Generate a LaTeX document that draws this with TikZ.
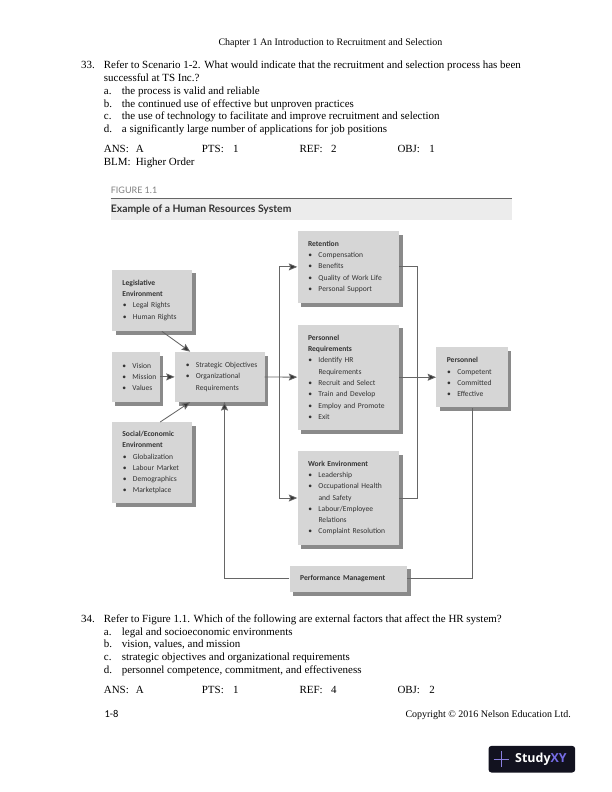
\documentclass[tikz,border=0pt]{standalone}
\usepackage{fontspec}
\setmainfont{Liberation Serif}
\newfontfamily\hrfont{Carlito}
\newfontfamily\headfont{Lato}
\newfontfamily\badgefont{Open Sans}
\usetikzlibrary{positioning}
\usetikzlibrary{arrows.meta}
\usetikzlibrary{shadows}
\definecolor{boxgray}{HTML}{D6D6D6}
\definecolor{shadegray}{HTML}{8A8A8A}
\definecolor{linegray}{HTML}{666666}
\definecolor{inkgray}{HTML}{333333}
\definecolor{badgedark}{HTML}{12121F}
\definecolor{badgeviolet}{HTML}{8A7FE0}
\newcommand{\hrb}[1]{\mbox{\makebox[10.5bp][l]{\hspace{0.4bp}\textbullet}#1}}
\newcommand{\hrc}[1]{\hspace*{10.5bp}#1}
\tikzset{
    hrbox/.style 2 args = {rectangle, fill=boxgray, inner xsep=10.5bp, inner ysep=0pt, text width=#1bp-21bp, minimum height=#2bp, align=left, text=inkgray, font=\hrfont\fontsize{7.6}{11.3}\selectfont, drop shadow={shadow xshift=3.6bp, shadow yshift=-3.6bp, fill=shadegray, opacity=1}},
    qtext/.style = {anchor=north west, inner sep=0pt, align=left, font=\fontsize{11}{12.7}\selectfont},
    ltext/.style = {anchor=base west, inner sep=0pt, font=\fontsize{11}{12.7}\selectfont},
    edgen/.style = {-,line width=0.85bp,linegray},
    edgea/.style = {-{Stealth[length=8.5bp,width=7bp,inset=1.4bp,fill=inkgray]},line width=0.85bp,linegray}
}
\begin{document}
\begin{tikzpicture}[x=1bp,y=-1bp]
  \useasboundingbox (0,0) rectangle (612,792);
  % running head
  \node[ltext,font=\fontsize{10}{12}\selectfont] (chap) at (218.3,45.3) {Chapter 1 An Introduction to Recruitment and Selection};
  % question 33
  \node[ltext] (n33) at (81,69) {33.};
  \node[ltext] (q33) at (103.7,69) {Refer to Scenario 1-2. What would indicate that the recruitment and selection process has been};
  \node[ltext] (q33b) at (103.7,81.7) {successful at TS Inc.?};
  \node[qtext] (l33) at (103.7,85.4) {\strut a.\\b.\\c.\\d.};
  \node[qtext] (o33) at (121.7,85.4) {\strut the process is valid and reliable\\the continued use of effective but unproven practices\\the use of technology to facilitate and improve recruitment and selection\\a significantly large number of applications for job positions};
  \node[ltext] (ansa) at (103.7,152.7) {ANS:\hspace{7bp}A};
  \node[ltext] (ptsa) at (201.7,152.7) {PTS:\hspace{9.3bp}1};
  \node[ltext] (refa) at (299.3,152.7) {REF:\hspace{8.5bp}2};
  \node[ltext] (obja) at (397.3,152.7) {OBJ:\hspace{9.3bp}1};
  \node[ltext] (blm) at (103.7,165.7) {BLM:\hspace{5.1bp}Higher Order};
  % figure title
  \node[anchor=west, inner sep=0pt, text=gray, font=\headfont\fontsize{9}{10}\selectfont] (figlab) at (110.7,190) {FIGURE 1.1};
  \node[anchor=north west, fill=gray!15, minimum width=401bp, minimum height=21.7bp, inner sep=0pt, text=inkgray, font=\headfont\bfseries\fontsize{10.4}{12}\selectfont] (band) at (110.7,198.3) {\makebox[401bp][l]{Example of a Human Resources System}};
  \draw[linegray,line width=0.85bp] (band.north west) -- (band.north east);
  % boxes
  \node[hrbox={101.7}{72},anchor=north west] (ret) at (297.3,230.7) {\textbf{Retention}\\\hrb{Compensation}\\\hrb{Benefits}\\\hrb{Quality of Work Life}\\\hrb{Personal Support}};
  \node[hrbox={101.7}{105.3},below=21.3bp of ret] (req) {\textbf{Personnel}\\\textbf{Requirements}\\\hrb{Identify HR}\\\hrc{Requirements}\\\hrb{Recruit and Select}\\\hrb{Train and Develop}\\\hrb{Employ and Promote}\\\hrb{Exit}};
  \node[hrbox={101.7}{94},below=20.7bp of req] (work) {\textbf{Work Environment}\\\hrb{Leadership}\\\hrb{Occupational Health}\\\hrc{and Safety}\\\hrb{Labour/Employee}\\\hrc{Relations}\\\hrb{Complaint Resolution}};
  \node[hrbox={117.4}{26.4},below=20.3bp of work] (perf) {\textbf{Performance Management}};
  \node[hrbox={71.3}{60.4},right=36.7bp of req] (pers) {\textbf{Personnel}\\\hrb{Competent}\\\hrb{Committed}\\\hrb{Effective}};
  \node[hrbox={89.6}{50},anchor=north west] (strat) at (174.7,351.7) {\hrb{Strategic Objectives}\\\hrb{Organizational}\\\hrc{Requirements}};
  \node[hrbox={48.3}{50},left=14.7bp of strat] (vis) {\hrb{Vision}\\\hrb{Mission}\\\hrb{Values}};
  \node[hrbox={80}{61.7},anchor=north west] (legis) at (111.7,269.3) {\textbf{Legislative}\\\textbf{Environment}\\\hrb{Legal Rights}\\\hrb{Human Rights}};
  \node[hrbox={80}{81},anchor=north west] (soc) at (111.7,422) {\textbf{Social/Economic}\\\textbf{Environment}\\\hrb{Globalization}\\\hrb{Labour Market}\\\hrb{Demographics}\\\hrb{Marketplace}};
  % connectors
  \coordinate (split) at (279,376.7);
  \coordinate (merge) at (417.7,376.7);
  \draw[edgea] ([xshift=10bp]legis.south) -- ([xshift=-29.5bp]strat.north);
  \draw[edgea] ([xshift=8.3bp]soc.north) -- ([xshift=-29.5bp]strat.south);
  \draw[edgea] (vis) -- (strat);
  \draw[edgea] (strat) -- (req);
  \draw[edgea] (split) |- (ret);
  \draw[edgea] (split) |- (work);
  \draw[edgen] (ret) -| (merge);
  \draw[edgen] (work) -| (merge);
  \draw[edgea] (req) -- (pers);
  \draw[edgen] (perf) -| (pers);
  \draw[edgea] (perf) -| ([xshift=4.8bp]strat.south);
  % question 34
  \node[ltext] (n34) at (81,622.3) {34.};
  \node[ltext] (q34) at (103.7,622.3) {Refer to Figure 1.1. Which of the following are external factors that affect the HR system?};
  \node[qtext] (l34) at (103.7,626.1) {\strut a.\\b.\\c.\\d.};
  \node[qtext] (o34) at (121.7,626.1) {\strut legal and socioeconomic environments\\vision, values, and mission\\strategic objectives and organizational requirements\\personnel competence, commitment, and effectiveness};
  \node[ltext] (ansb) at (103.7,693.7) {ANS:\hspace{7bp}A};
  \node[ltext] (ptsb) at (201.7,693.7) {PTS:\hspace{9.3bp}1};
  \node[ltext] (refb) at (299.3,693.7) {REF:\hspace{8.5bp}4};
  \node[ltext] (objb) at (397.3,693.7) {OBJ:\hspace{9.3bp}2};
  % footer
  \node[anchor=base west, inner sep=0pt, font=\hrfont\fontsize{10.5}{12}\selectfont] (pg) at (104.3,717) {1-8};
  \node[anchor=base east, inner sep=0pt, font=\fontsize{10}{12}\selectfont] (copy) at (571,717) {Copyright © 2016 Nelson Education Ltd.};
  % badge
  \node[fill=badgedark, rounded corners=3bp, minimum width=86.7bp, minimum height=26.6bp, inner sep=0pt, anchor=north west] (badge) at (488.3,745.7) {};
  \draw[badgeviolet,thick] ([xshift=5.4bp]badge.west) -- ([xshift=21bp]badge.west);
  \draw[badgeviolet,thick] ([xshift=13.2bp,yshift=7.8bp]badge.west) -- ([xshift=13.2bp,yshift=-7.8bp]badge.west);
  \node[anchor=west, inner sep=0pt, text=white, font=\badgefont\bfseries\fontsize{12.5}{14}\selectfont] (badgetxt) at ([xshift=26.7bp]badge.west) {Study\textcolor{badgeviolet!85!blue}{XY}};
\end{tikzpicture}
\end{document}
